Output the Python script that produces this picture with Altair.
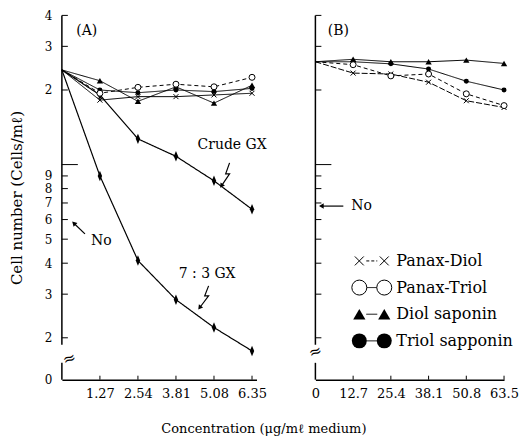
import altair as alt
import pandas as pd

FONT = "DejaVu Serif"

# Drug concentrations (ug/ml medium)
conc_a = [0, 1.27, 2.54, 3.81, 5.08, 6.35]
conc_b = [0, 12.7, 25.4, 38.1, 50.8, 63.5]

# Cell counts, units of 10^4 cells/ml
gx_73 = [24.1, 9.0, 4.1, 2.85, 2.2, 1.77]
gx_crude = [24.1, 19.1, 12.7, 10.8, 8.6, 6.6]
a_panax_diol = [24.1, 18.2, 18.8, 18.8, 19.1, 19.4]
a_panax_triol = [24.1, 19.4, 20.5, 21.1, 20.6, 22.5]
a_diol_sap = [24.1, 21.8, 18.0, 20.6, 17.7, 20.9]
a_triol_sap = [24.1, 20.0, 19.5, 20.0, 19.7, 20.3]

b_panax_diol = [26.0, 23.4, 23.2, 21.5, 18.1, 17.0]
b_panax_triol = [26.0, 25.3, 22.8, 23.2, 19.3, 17.3]
b_diol_sap = [26.0, 26.6, 26.0, 26.0, 26.4, 25.6]
b_triol_sap = [26.0, 26.0, 25.5, 24.3, 21.7, 20.0]

# Inoculum level N0 marked on each axis
n0_a = 5.8
n0_b = 6.8

series_names = ["Panax-Diol", "Panax-Triol", "Diol saponin", "Triol sapponin"]

# Axis ticks / labels
y_min, y_max = 1.355, 40
y_minor_ticks = [2, 3, 4, 5, 6, 7, 8, 9, 20, 30, 40]
y_decade_ticks = [10]
y_label_values = [y_min, 2, 3, 4, 5, 6, 7, 8, 9, 20, 30, 40]
x_ticks_a = [1.27, 2.54, 3.81, 5.08, 6.35]
x_ticks_b = [12.7, 25.4, 38.1, 50.8, 63.5]

# Broken-axis segments (value ranges of the drawn y axis line)
axis_segments = {"v": [1.875, y_min], "v2": [y_max, 1.585]}

# Zig-zag pointers to the two GX curves (x, cells)
crude_ptr_x = [5.6, 5.47, 5.6, 5.33]
crude_ptr_v = [10.16, 9.17, 9.17, 8.21]
gx73_ptr_x = [4.9, 4.77, 4.9, 4.6]
gx73_ptr_v = [3.24, 2.955, 2.955, 2.644]

H = 365
WA, WB = 195, 189

XPATH = "M-1,-1L1,1M-1,1L1,-1"
GXPATH = "M0,-1L0.42,0L0,1L-0.42,0Z"


def marker(kind, size):
    if kind == "x":
        return dict(shape=XPATH, filled=False, stroke="black", strokeWidth=1, size=size, opacity=1)
    if kind == "o":
        return dict(shape="circle", filled=True, fill="white", stroke="black", strokeWidth=1,
                    size=size, opacity=1)
    if kind == "^":
        return dict(shape="triangle-up", filled=True, fill="black", size=size, opacity=1)
    if kind == "gx":
        return dict(shape=GXPATH, filled=True, fill="black", size=size, opacity=1)
    return dict(shape="circle", filled=True, fill="black", size=size, opacity=1)


yscale = alt.Scale(type="log", domain=[y_min, y_max], nice=False, zero=False)

yaxis_a = alt.Axis(
    values=y_label_values,
    labelExpr="datum.value < 1.5 ? '0' : (datum.value >= 15 ? format(datum.value / 10, 'd') : format(datum.value, 'd'))",
    ticks=False, tickSize=0, domain=False, grid=False,
    labelFont=FONT, labelFontSize=12, labelColor="black", labelPadding=10, labelOverlap=False,
    title="Cell number (Cells/mℓ)", titleFont=FONT, titleFontSize=15, titleFontWeight="normal",
    titleColor="black", titlePadding=20,
)

xaxis_common = dict(ticks=False, tickSize=0, domain=True, domainColor="black", domainWidth=1.5,
                    grid=False, labelFont=FONT, labelFontSize=13, labelColor="black",
                    labelPadding=8, labelFlush=False, labelOverlap=False, title=None)
xaxis_a = alt.Axis(values=x_ticks_a, format=".2f", **xaxis_common)
xaxis_b = alt.Axis(values=[0] + x_ticks_b,
                   labelExpr="datum.value == 0 ? '0' : format(datum.value, '.1f')", **xaxis_common)


def make_panel(conc, x_domain, width, xaxis, yaxis, curves, x_ticks, extras):
    X = alt.X("x:Q", scale=alt.Scale(domain=x_domain, nice=False, zero=False), axis=xaxis)
    Y = alt.Y("v:Q", scale=yscale, axis=yaxis)
    layers = []
    # y axis line with break
    layers.append(alt.Chart(pd.DataFrame(axis_segments)).mark_rule(color="black", strokeWidth=1.5)
                  .encode(x=alt.value(0), y=Y, y2="v2:Q"))
    layers.append(alt.Chart(pd.DataFrame({"v": y_minor_ticks})).mark_rule(color="black", strokeWidth=1)
                  .encode(x=alt.value(0), x2=alt.value(6), y=Y))
    layers.append(alt.Chart(pd.DataFrame({"v": y_decade_ticks})).mark_rule(color="black", strokeWidth=1)
                  .encode(x=alt.value(0), x2=alt.value(16), y=Y))
    # inward x ticks
    layers.append(alt.Chart(pd.DataFrame({"x": x_ticks})).mark_rule(color="black", strokeWidth=1)
                  .encode(x=X, y=alt.value(H), y2=alt.value(H - 4)))
    # curves
    point_layers = []
    for vals, kind, msize, dash, sw in curves:
        df = pd.DataFrame({"x": conc, "v": vals})
        layers.append(alt.Chart(df).mark_line(color="black", strokeWidth=sw, strokeDash=dash)
                      .encode(x=X, y=Y))
        point_layers.append(alt.Chart(df.iloc[1:]).mark_point(**marker(kind, msize)).encode(x=X, y=Y))
    layers += point_layers
    for ex in extras:
        layers.append(ex(X, Y))
    return alt.layer(*layers).properties(width=width, height=H)


def text_at(x, v, s, size=14, align="left", angle=0, font=FONT):
    def f(X, Y):
        return (alt.Chart(pd.DataFrame({"x": [x], "v": [v], "t": [s]}))
                .mark_text(font=font, fontSize=size, align=align, baseline="middle", color="black",
                           angle=angle)
                .encode(x=X, y=Y, text="t:N"))
    return f


def arrow(x1, v1, x2, v2, head_shape, head_angle=0):
    def f(X, Y):
        df = pd.DataFrame({"x": [x1], "v": [v1], "x2": [x2], "v2": [v2]})
        rule = alt.Chart(df).mark_rule(color="black", strokeWidth=1.2).encode(
            x=X, y=Y, x2="x2:Q", y2="v2:Q")
        head = (alt.Chart(pd.DataFrame({"x": [x2], "v": [v2]}))
                .mark_point(shape=head_shape, filled=True, fill="black", size=30, angle=head_angle,
                            opacity=1)
                .encode(x=X, y=Y))
        return alt.layer(rule, head)
    return f


def zigzag(xs, vs, head_angle):
    def f(X, Y):
        df = pd.DataFrame({"x": xs, "v": vs, "o": list(range(len(xs)))})
        path = alt.Chart(df).mark_line(color="black", strokeWidth=1.2).encode(x=X, y=Y, order="o:Q")
        head = (alt.Chart(df.iloc[-1:])
                .mark_point(shape="triangle-down", filled=True, fill="black", size=28,
                            angle=head_angle, opacity=1)
                .encode(x=X, y=Y))
        return alt.layer(path, head)
    return f


solid = [1, 0]
curves_a = [
    (gx_73, "gx", 110, solid, 1.2),
    (gx_crude, "gx", 110, solid, 1.2),
    (a_panax_diol, "x", 25, solid, 1.0),
    (a_diol_sap, "^", 40, solid, 1.0),
    (a_triol_sap, ".", 25, solid, 1.0),
    (a_panax_triol, "o", 36, [4, 3], 1.0),
]
extras_a = [
    text_at(0.83, 34.6, "(A)", align="center"),
    text_at(4.53, 12.0, "Crude GX"),
    zigzag(crude_ptr_x, crude_ptr_v, 34),
    text_at(3.9, 3.62, "7 : 3 GX"),
    zigzag(gx73_ptr_x, gx73_ptr_v, 37),
    text_at(0.97, 4.92, "No"),
    arrow(0.77, 5.25, 0.4, n0_a, "triangle-up", 315),
    text_at(0.25, 1.647, "≈", size=16, align="center", angle=340),
]

curves_b = [
    (b_panax_diol, "x", 25, [6, 2], 1.0),
    (b_diol_sap, "^", 40, solid, 1.0),
    (b_triol_sap, ".", 25, solid, 1.0),
    (b_panax_triol, "o", 36, [4, 3], 1.0),
]


def legend_rows(X, Y):
    kinds = ["x", "o", "^", "."]
    sizes = [80, 225, 150, 225]
    dashes = [[3, 2], solid, solid, solid]
    rows = []
    for i, (name, kind, size, dash) in enumerate(zip(series_names, kinds, sizes, dashes)):
        yr = 246 + i * 26.7
        d = pd.DataFrame({"t": [name]})
        rows.append(alt.Chart(d).mark_rule(color="black", strokeWidth=1, strokeDash=dash)
                    .encode(x=alt.value(51), x2=alt.value(62), y=alt.value(yr)))
        for xp in (44, 69):
            rows.append(alt.Chart(d).mark_point(**marker(kind, size))
                        .encode(x=alt.value(xp), y=alt.value(yr)))
        rows.append(alt.Chart(d).mark_text(font=FONT, fontSize=16, align="left", baseline="middle",
                                           color="black")
                    .encode(x=alt.value(81), y=alt.value(yr), text="t:N"))
    return alt.layer(*rows)


extras_b = [
    text_at(7.7, 34.6, "(B)", align="center"),
    text_at(12.1, n0_b, "No"),
    arrow(9.4, n0_b, 2.0, n0_b, "triangle-left"),
    text_at(0, 1.757, "≈", size=16, align="center", angle=340),
    legend_rows,
]

panel_a = make_panel(conc_a, [0, 6.5], WA, xaxis_a, yaxis_a, curves_a, x_ticks_a, extras_a)
panel_b = make_panel(conc_b, [0, 63.5], WB, xaxis_b, None, curves_b, x_ticks_b, extras_b)

chart = (
    alt.hconcat(panel_a, panel_b, spacing=59, bounds="flush")
    .properties(
        title=alt.TitleParams("Concentration (μg/mℓ medium)", orient="bottom", anchor="middle",
                              font=FONT, fontSize=13, fontWeight="normal", color="black", offset=22),
        padding={"left": 9, "top": 9, "right": 5, "bottom": 5},
        background="white",
    )
    .configure_view(stroke=None)
)

chart.save("out.html", embed_options={"renderer": "svg", "actions": False})
